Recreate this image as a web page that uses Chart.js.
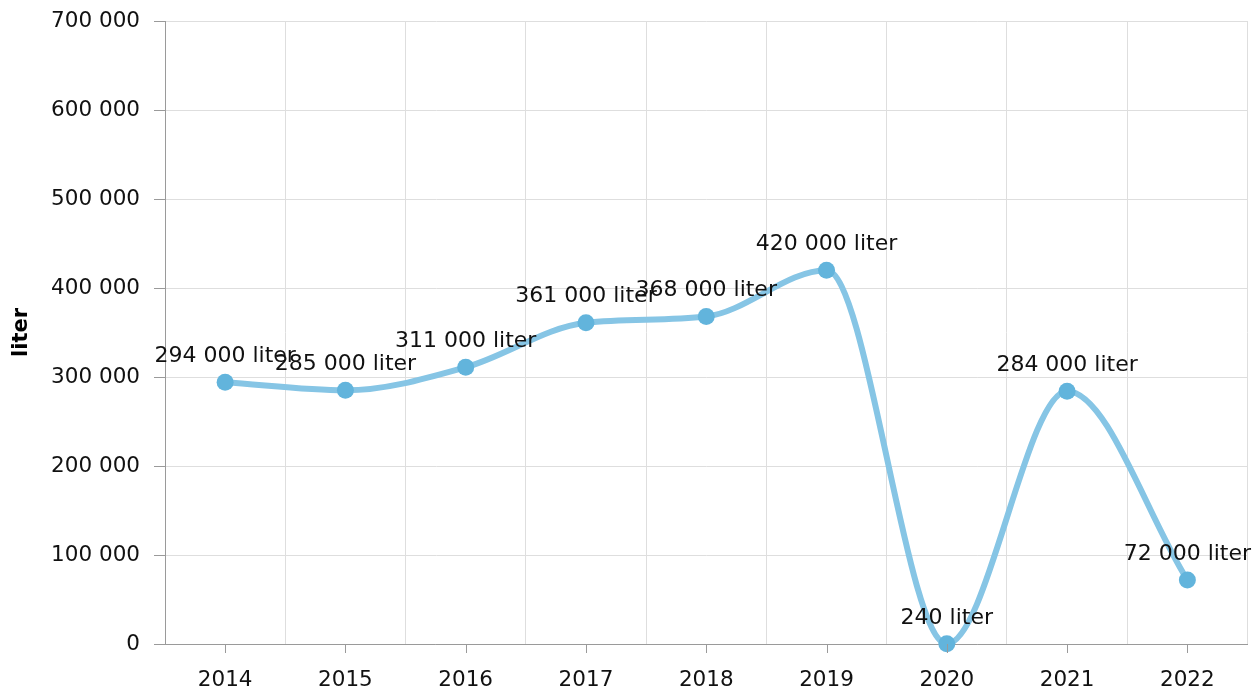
<!DOCTYPE html>
<html lang="no">
<head>
  <meta charset="UTF-8">
  <title>Liter per år</title>
  <script src="https://cdn.jsdelivr.net/npm/chart.js@4.4.3/dist/chart.umd.min.js"></script>
  <style>
    html, body { margin: 0; padding: 0; background: #fff; }
    #wrap { width: 1256px; height: 693px; position: relative; }
  </style>
</head>
<body>
  <div id="wrap"><canvas id="chart"></canvas></div>
  <script>
    const years = ['2014', '2015', '2016', '2017', '2018', '2019', '2020', '2021', '2022'];
    const liters = [294000, 285000, 311000, 361000, 368000, 420000, 240, 284000, 72000];
    const yMin = 0;
    const yMax = 700000;
    const yStep = 100000;
    const unit = 'liter';

    const FONT = 'DejaVu Sans';
    const AXIS = '#9a9a9a';
    const GRID = '#dedede';
    const TEXT = '#111';

    const fmt = n => String(n).replace(/\B(?=(\d{3})+(?!\d))/g, ' ');

    // value labels above each point
    const pointLabels = {
      id: 'pointLabels',
      afterDatasetsDraw(chart) {
        const ctx = chart.ctx;
        const meta = chart.getDatasetMeta(0);
        ctx.save();
        ctx.font = '22px "' + FONT + '"';
        ctx.fillStyle = TEXT;
        ctx.textAlign = 'center';
        ctx.textBaseline = 'middle';
        meta.data.forEach((pt, i) => {
          ctx.fillText(fmt(liters[i]) + ' ' + unit, pt.x, pt.y - 26);
        });
        ctx.restore();
      }
    };

    // x tick marks sit at category centres, grid lines between them
    const xTickMarks = {
      id: 'xTickMarks',
      afterDraw(chart) {
        const sc = chart.scales.x;
        const ctx = chart.ctx;
        const y0 = chart.chartArea.bottom;
        ctx.save();
        ctx.strokeStyle = AXIS;
        ctx.lineWidth = 1;
        ctx.beginPath();
        sc.ticks.forEach((t, i) => {
          const x = Math.round(sc.getPixelForTick(i)) + 0.5;
          ctx.moveTo(x, y0);
          ctx.lineTo(x, y0 + 9);
        });
        ctx.stroke();
        ctx.restore();
      }
    };

    new Chart(document.getElementById('chart'), {
      type: 'line',
      data: {
        labels: years,
        datasets: [{
          data: liters,
          borderColor: '#86c5e5',
          borderWidth: 6,
          cubicInterpolationMode: 'monotone',
          pointRadius: 8.5,
          pointHoverRadius: 8.5,
          pointBackgroundColor: '#62b4dc',
          pointBorderWidth: 0,
          clip: false
        }]
      },
      options: {
        responsive: true,
        maintainAspectRatio: false,
        animation: false,
        layout: { padding: { top: 21, right: 3, bottom: 0, left: 5 } },
        plugins: { legend: { display: false }, tooltip: { enabled: false } },
        scales: {
          x: {
            offset: true,
            afterFit: s => { s.height = 49; s.paddingLeft = 0; s.paddingRight = 0; },
            grid: { offset: true, color: GRID, drawTicks: false },
            border: { color: AXIS },
            ticks: { color: TEXT, padding: 24, font: { family: FONT, size: 21.5 } }
          },
          y: {
            min: yMin,
            max: yMax,
            afterFit: s => { s.width = 160; s.paddingTop = 0; s.paddingBottom = 0; },
            grid: { color: GRID, tickColor: AXIS, tickLength: 11 },
            border: { color: AXIS },
            ticks: {
              stepSize: yStep,
              color: TEXT,
              padding: 14,
              font: { family: FONT, size: 21.5 },
              callback: v => fmt(v)
            },
            title: {
              display: true,
              text: unit,
              color: '#000',
              font: { family: FONT, size: 21, weight: 'bold' }
            }
          }
        }
      },
      plugins: [pointLabels, xTickMarks]
    });
  </script>
</body>
</html>
